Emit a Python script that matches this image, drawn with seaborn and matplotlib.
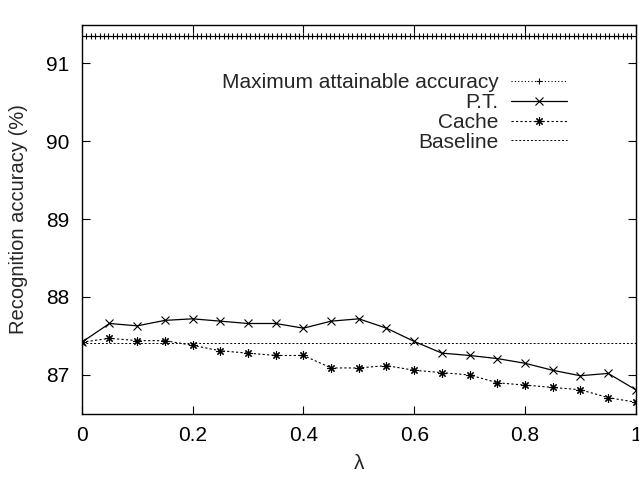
import numpy as np
import pandas as pd
import seaborn as sns
import matplotlib.pyplot as plt

lam = [0.0, 0.05, 0.1, 0.15, 0.2, 0.25, 0.3, 0.35, 0.4, 0.45, 0.5,
       0.55, 0.6, 0.65, 0.7, 0.75, 0.8, 0.85, 0.9, 0.95, 1.0]
pt = [87.42, 87.66, 87.63, 87.70, 87.72, 87.69, 87.66, 87.66, 87.60, 87.69, 87.72,
      87.60, 87.43, 87.28, 87.25, 87.21, 87.15, 87.06, 86.99, 87.02, 86.81]
cache = [87.42, 87.47, 87.44, 87.44, 87.38, 87.31, 87.28, 87.25, 87.25, 87.09, 87.09,
         87.12, 87.06, 87.03, 87.00, 86.90, 86.87, 86.84, 86.81, 86.71, 86.65]
baseline = 87.41
max_acc = 91.35
max_lam = np.linspace(0, 1, 126)

sns.set_style("ticks")
plt.rcParams['font.family'] = ['Liberation Sans', 'DejaVu Sans']

fig = plt.figure(figsize=(6.39, 4.78), dpi=100)
ax = fig.add_axes([0.128, 0.134, 0.867, 0.814])

df_max = pd.DataFrame({'lam': max_lam, 'acc': max_acc})
df_base = pd.DataFrame({'lam': [0.0, 1.0], 'acc': baseline})
df = pd.DataFrame({'lam': lam, 'pt': pt, 'cache': cache})

common = dict(ax=ax, color='black', mec='black', mfc='black', mew=0.8)
sns.lineplot(data=df_max, x='lam', y='acc', lw=0.8, linestyle=(0, (1, 2)),
             marker='+', markersize=5, label='Maximum attainable accuracy', **common)
sns.lineplot(data=df, x='lam', y='pt', lw=0.9, marker='x', markersize=6,
             label='P.T.', **common)
sns.lineplot(data=df, x='lam', y='cache', lw=0.8, linestyle=(0, (2, 2)),
             marker=(8, 2, 0), markersize=6, label='Cache', **common)
sns.lineplot(data=df_base, x='lam', y='acc', lw=0.7, linestyle=(0, (2, 2)),
             label='Baseline', ax=ax, color='black')

ax.set_xlim(0, 1)
ax.set_ylim(86.5, 91.49)
ax.set_xticks([0, 0.2, 0.4, 0.6, 0.8, 1])
ax.set_xticklabels(['0', '0.2', '0.4', '0.6', '0.8', '1'])
ax.set_yticks([87, 88, 89, 90, 91])
ax.tick_params(direction='in', length=6, width=0.8, labelsize=15,
               top=True, right=True, pad=9, colors='black')
for s in ax.spines.values():
    s.set_linewidth(1.0)
    s.set_color('black')

ax.set_xlabel('λ', fontsize=15, labelpad=6)
ax.set_ylabel('Recognition accuracy (%)', fontsize=14.5, labelpad=13)

leg = ax.legend(loc='upper right', bbox_to_anchor=(0.903, 0.913), frameon=False,
                markerfirst=False, fontsize=15, handlelength=2.7,
                labelspacing=0.04, handletextpad=0.6, borderpad=0.2)

fig.savefig('out.png', dpi=100)
